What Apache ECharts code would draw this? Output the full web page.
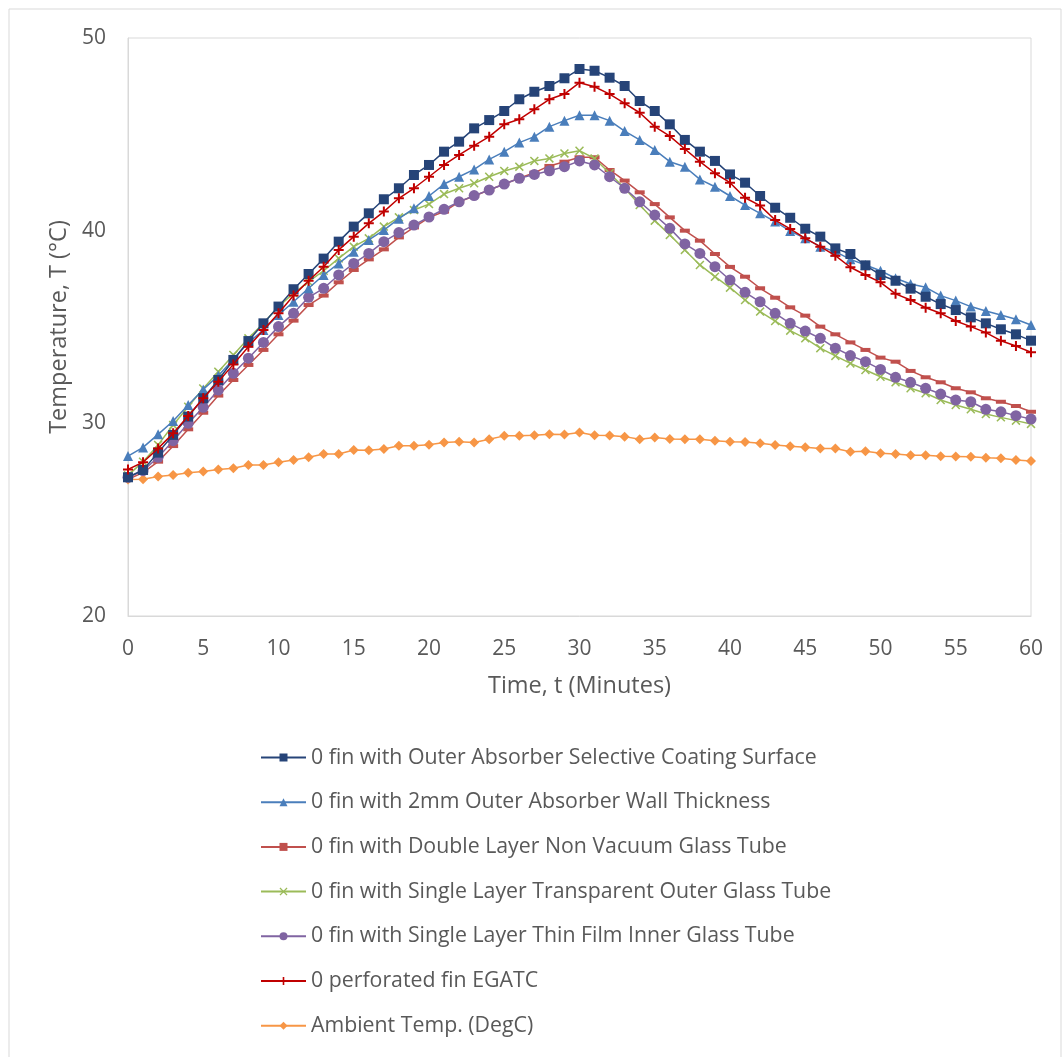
<!DOCTYPE html>
<html><head><meta charset="utf-8">
<script src="https://cdn.jsdelivr.net/npm/echarts@6/dist/echarts.min.js"></script>
<style>html,body{margin:0;padding:0;background:#fff}#c{width:1064px;height:1057px}</style>
</head><body><div id="c"></div>
<script>
const time = Array.from({length:61},(_,i)=>i);
const seriesNames = [
 "0 fin with Outer Absorber Selective Coating Surface",
 "0 fin with 2mm Outer Absorber Wall Thickness",
 "0 fin with Double Layer Non Vacuum Glass Tube",
 "0 fin with Single Layer Transparent Outer Glass Tube",
 "0 fin with Single Layer Thin Film Inner Glass Tube",
 "0 perforated fin EGATC",
 "Ambient Temp. (DegC)"
];
const selectiveCoating = [27.2,27.58,28.48,29.4,30.35,31.3,32.25,33.29,34.27,35.19,36.06,36.96,37.75,38.55,39.43,40.21,40.9,41.63,42.2,42.89,43.41,44.1,44.62,45.31,45.74,46.21,46.82,47.21,47.51,47.91,48.39,48.3,47.94,47.51,46.73,46.21,45.52,44.71,44.1,43.62,42.92,42.49,41.8,41.19,40.67,40.1,39.69,39.08,38.79,38.2,37.7,37.4,36.99,36.57,36.19,35.88,35.5,35.19,34.88,34.62,34.29];
const wallThickness2mm = [28.3,28.75,29.43,30.12,30.95,31.76,32.47,33.32,34.19,34.84,35.62,36.31,37.01,37.7,38.3,38.91,39.52,40.03,40.62,41.16,41.8,42.42,42.8,43.18,43.7,44.1,44.57,44.88,45.4,45.71,45.99,45.99,45.71,45.17,44.71,44.19,43.58,43.32,42.66,42.28,41.8,41.33,40.9,40.47,39.98,39.6,39.17,38.91,38.51,38.22,37.92,37.53,37.23,37.06,36.63,36.37,36.06,35.83,35.62,35.4,35.1];
const doubleLayer = [27.1,27.44,28.01,28.82,29.69,30.55,31.44,32.25,33.03,33.81,34.62,35.33,36.14,36.63,37.32,37.96,38.51,39.03,39.65,40.17,40.68,40.99,41.5,41.8,42.11,42.42,42.72,43.01,43.36,43.58,43.81,43.81,43.15,42.6,41.99,41.38,40.69,40.0,39.48,38.79,38.12,37.61,37.01,36.52,36.02,35.59,35.02,34.62,34.2,33.81,33.41,33.2,32.72,32.39,32.13,31.82,31.61,31.3,31.12,30.9,30.6];
const transparentOuter = [27.3,28.01,28.88,29.91,30.86,31.81,32.68,33.55,34.41,35.19,36.06,36.75,37.35,37.92,38.56,39.17,39.6,40.21,40.69,41.07,41.38,41.9,42.2,42.46,42.8,43.1,43.32,43.62,43.75,44.01,44.15,43.75,42.98,42.2,41.33,40.52,39.78,39.0,38.22,37.61,37.04,36.4,35.8,35.31,34.81,34.41,33.9,33.5,33.11,32.77,32.42,32.13,31.82,31.56,31.21,30.95,30.73,30.48,30.31,30.14,29.97];
const thinFilmInner = [27.2,27.54,28.24,29.1,30.0,30.83,31.73,32.6,33.38,34.2,35.02,35.71,36.54,37.01,37.7,38.3,38.82,39.43,39.9,40.29,40.71,41.11,41.5,41.82,42.11,42.42,42.72,42.92,43.11,43.32,43.62,43.41,42.8,42.2,41.5,40.81,40.12,39.31,38.82,38.13,37.44,36.8,36.31,35.71,35.19,34.79,34.41,33.9,33.52,33.2,32.8,32.39,32.13,31.82,31.52,31.21,31.12,30.73,30.6,30.4,30.22];
const perforatedFin = [27.61,27.98,28.7,29.48,30.38,31.3,32.16,33.06,33.98,34.84,35.71,36.63,37.4,38.13,39.0,39.69,40.38,40.99,41.68,42.2,42.8,43.41,43.93,44.41,44.88,45.52,45.78,46.3,46.82,47.09,47.68,47.47,47.09,46.61,46.12,45.4,44.91,44.24,43.58,42.98,42.49,41.71,41.3,40.55,40.09,39.6,39.17,38.7,38.1,37.7,37.32,36.72,36.4,36.0,35.71,35.31,35.02,34.71,34.29,34.01,33.69];
const ambient = [27.08,27.1,27.24,27.32,27.44,27.5,27.6,27.67,27.84,27.84,27.98,28.1,28.24,28.41,28.41,28.62,28.6,28.67,28.84,28.84,28.89,29.0,29.05,29.0,29.17,29.35,29.35,29.38,29.43,29.42,29.53,29.38,29.37,29.31,29.17,29.27,29.19,29.17,29.17,29.1,29.04,29.03,28.97,28.88,28.81,28.76,28.69,28.69,28.53,28.55,28.45,28.41,28.34,28.34,28.29,28.28,28.26,28.22,28.19,28.1,28.05];
const xTicks = {min:0,max:60,interval:5};
const yTicks = {min:20,max:50,interval:10};

const allData = [selectiveCoating,wallThickness2mm,doubleLayer,transparentOuter,thinFilmInner,perforatedFin,ambient];
const colors = ['#264478','#4a7ebb','#c0504d','#9bbb59','#8064a2','#c00000','#f79646'];
const xPath = 'path://M0,1.2 L1.2,0 L5,3.8 L8.8,0 L10,1.2 L6.2,5 L10,8.8 L8.8,10 L5,6.2 L1.2,10 L0,8.8 L3.8,5 Z';
const plusPath = 'path://M4,0 L6,0 L6,4 L10,4 L10,6 L6,6 L6,10 L4,10 L4,6 L0,6 L0,4 L4,4 Z';
const dashPath = 'path://M0,0 L10,0 L10,4 L0,4 Z';
const symbols = ['rect','triangle',dashPath,xPath,'circle',plusPath,'diamond'];
const sizes = [10,10,[10,4],9,11,10,10];

const font = '"Open Sans", "Noto Sans", sans-serif';
const chart = echarts.init(document.getElementById('c'),null,{renderer:'canvas'});
chart.setOption({
  animation:false,
  backgroundColor:'#fff',
  graphic:[{type:'rect',shape:{x:9,y:9,width:1052,height:1060},style:{fill:'none',stroke:'#d9d9d9',lineWidth:1},silent:true}],
  grid:{left:128,right:33,top:38,bottom:441,show:true,borderColor:'#d9d9d9',borderWidth:1},
  xAxis:{type:'value',min:xTicks.min,max:xTicks.max,interval:xTicks.interval,
    name:'Time, t (Minutes)',nameLocation:'middle',nameGap:58,
    nameTextStyle:{fontSize:23.5,color:'#595959',fontFamily:font},
    axisLine:{lineStyle:{color:'#d9d9d9'}},axisTick:{show:false},splitLine:{show:false},
    axisLabel:{fontSize:21,color:'#595959',fontFamily:font,margin:23}},
  yAxis:{type:'value',min:yTicks.min,max:yTicks.max,interval:yTicks.interval,
    name:'Temperature, T (°C)',nameLocation:'middle',nameGap:56,
    nameTextStyle:{fontSize:23.5,color:'#595959',fontFamily:font},
    axisLine:{show:true,lineStyle:{color:'#d9d9d9'}},axisTick:{show:false},splitLine:{show:false},
    axisLabel:{fontSize:21,color:'#595959',fontFamily:font,margin:22}},
  legend:{orient:'vertical',left:260,top:747,padding:0,itemWidth:45,itemHeight:10,itemGap:23.7,
    textStyle:{fontSize:21.3,color:'#595959',fontFamily:font,lineHeight:20},
    data:seriesNames},
  series: seriesNames.map((n,i)=>({
    name:n,type:'line',
    data: time.map((t,k)=>[t,allData[i][k]]),
    symbol:symbols[i],symbolSize:sizes[i],
    lineStyle:{color:colors[i],width:1.5},
    itemStyle:{color:colors[i]},
    z: [7,6,3,4,5,8,2][i]
  }))
});
</script></body></html>
